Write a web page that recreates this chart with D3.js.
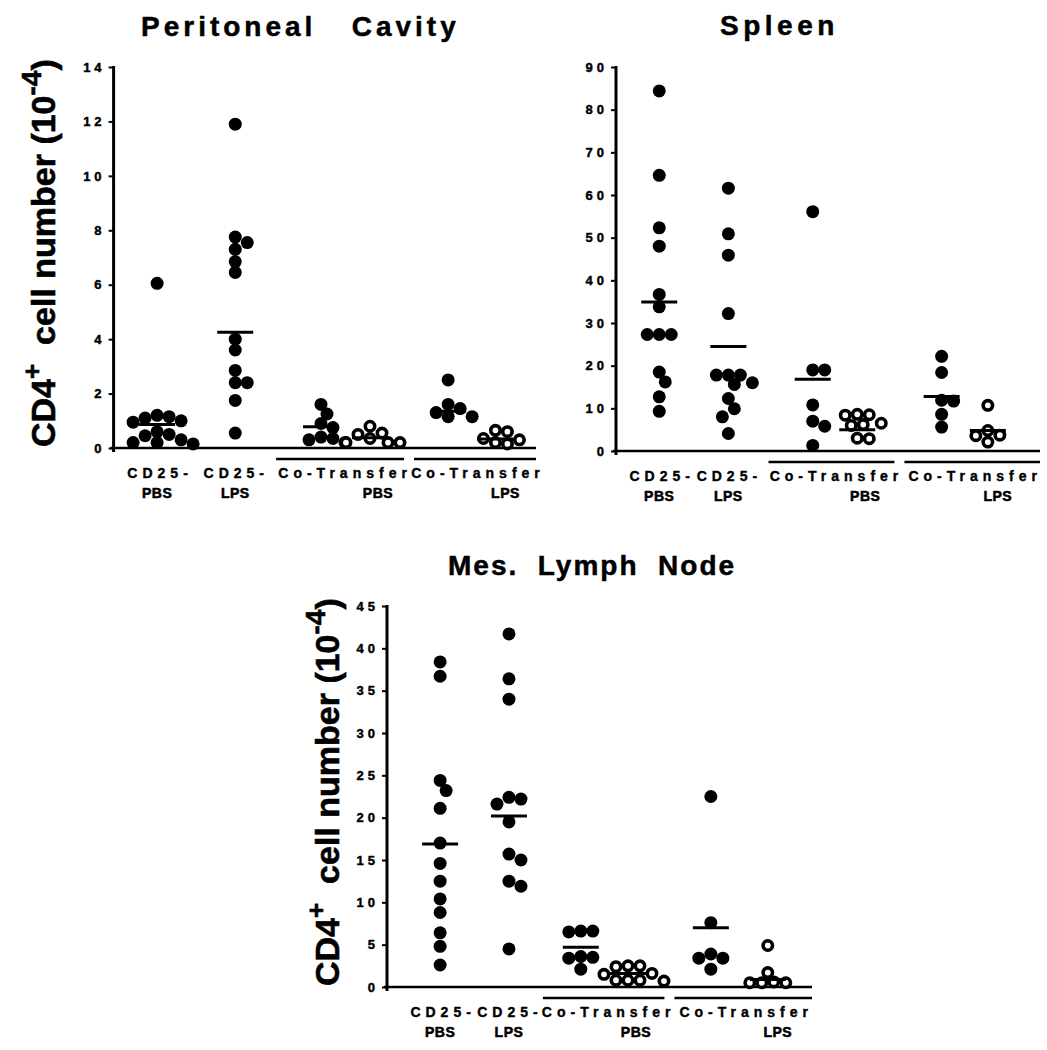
<!DOCTYPE html>
<html>
<head>
<meta charset="utf-8">
<script src="https://cdn.jsdelivr.net/npm/d3@7"></script>
<style>
  body { margin: 0; background: #fff; }
  svg text { font-family: "Liberation Sans", Arial, sans-serif; font-weight: bold; fill: #000; white-space: pre; }
</style>
</head>
<body>
<svg id="fig" width="1047" height="1050"></svg>
<script>
// columns of every panel (open = co-transferred CD25+ cells shown as open circles)
const columns   = ["CD25- PBS", "CD25- LPS", "CoT PBS", "CoT PBS open", "CoT LPS", "CoT LPS open"];
const openCols  = [false, false, false, true, false, true];
const xLabelTop = ["CD25-", "CD25-", "Co-Transfer", "Co-Transfer"];
const xLabelBot = ["PBS", "LPS", "PBS", "LPS"];

// Peritoneal cavity (x 10^4)
const periValues = [
    [6.05, 1.2, 1.15, 1.1, 1.0, 0.95, 0.6, 0.5, 0.45, 0.3, 0.2, 0.2, 0.15],
    [11.9, 7.75, 7.55, 7.3, 6.85, 6.45, 4.0, 3.6, 2.85, 2.4, 2.4, 1.75, 0.55],
    [1.6, 1.25, 0.9, 0.75, 0.4, 0.35, 0.3, 0.2],
    [0.8, 0.55, 0.5, 0.35, 0.2, 0.2, 0.2],
    [2.5, 1.6, 1.45, 1.3, 1.15, 1.15],
    [0.65, 0.6, 0.35, 0.3, 0.2, 0.15]
];
const periMeans = [0.86, 4.25, 0.78, 0.38, 1.35, 0.33];
const periTicks = [0, 2, 4, 6, 8, 10, 12, 14];

// Spleen
const splValues = [
    [84.4, 64.6, 52.3, 48, 36.7, 33.8, 27.3, 27.3, 27.3, 18.5, 16.2, 12.7, 9.3],
    [61.6, 50.9, 45.9, 32.2, 17.8, 17.8, 17.8, 16.0, 15.6, 12.3, 9.9, 8.0, 4.1],
    [56.1, 19.0, 19.0, 10.8, 7.0, 5.8, 1.3],
    [8.6, 8.5, 8.4, 6.5, 6.2, 6.0, 3.0, 2.9],
    [22.2, 18.4, 11.9, 11.7, 8.6, 5.6],
    [10.7, 4.8, 3.7, 3.6, 2.1]
];
const splMeans = [34.9, 24.5, 16.8, 5.0, 12.8, 4.8];
const splTicks = [0, 10, 20, 30, 40, 50, 60, 70, 80, 90];

// Mesenteric lymph node
const mlnValues = [
    [38.4, 36.7, 24.4, 23.2, 21.1, 17.0, 14.6, 12.5, 10.4, 8.8, 6.4, 4.8, 2.6],
    [41.7, 36.4, 34.0, 22.4, 22.2, 21.6, 19.5, 15.7, 15.0, 12.5, 11.9, 4.5],
    [6.6, 6.6, 6.5, 3.6, 3.5, 3.4, 2.1],
    [2.5, 2.5, 2.4, 1.6, 1.5, 0.8, 0.8, 0.8, 0.7],
    [22.5, 7.6, 3.9, 3.4, 3.4, 2.1],
    [4.9, 1.7, 0.6, 0.5, 0.5, 0.5]
];
const mlnMeans = [16.9, 20.2, 4.7, 1.6, 7.0, 0.9];
const mlnTicks = [0, 5, 10, 15, 20, 25, 30, 35, 40, 45];

const svg = d3.select("#fig");

// panel layout
const panels = [
    { title: "Peritoneal   Cavity", titleX: 141, titleY: 36, titleSize: 28, titleSpacing: 4,
      values: periValues, means: periMeans, ticks: periTicks,
      x0: 113.6, x1: 536, yTop: 67, yBottom: 448, labelX: 55,
      cols: [0.103, 0.288, 0.491, 0.607, 0.792, 0.904] },
    { title: "Spleen", titleX: 720, titleY: 35, titleSize: 28, titleSpacing: 4.5,
      values: splValues, means: splMeans, ticks: splTicks,
      x0: 616, x1: 1040, yTop: 67, yBottom: 451, labelX: null,
      cols: [0.102, 0.265, 0.464, 0.569, 0.768, 0.877] },
    { title: "Mes.  Lymph  Node", titleX: 448, titleY: 575, titleSize: 28, titleSpacing: 2,
      values: mlnValues, means: mlnMeans, ticks: mlnTicks,
      x0: 387, x1: 812, yTop: 606, yBottom: 987, labelX: 339,
      cols: [0.125, 0.287, 0.456, 0.567, 0.762, 0.896] }
];

const dotR = 6.5;

// simple greedy swarm: place each dot as close to the column centre as possible
function swarm(vals, cx, y, step, minDist) {
    const placed = [];
    vals.slice().sort((a, b) => b - a).forEach(v => {
        const py = y(v);
        for (let k = 0; k < 40; k++) {
            const off = k === 0 ? 0 : (k % 2 ? Math.ceil(k / 2) : -k / 2) * step;
            const px = cx + off;
            if (placed.every(q => Math.hypot(q.x - px, q.y - py) >= minDist)) {
                placed.push({ v, x: px, y: py });
                break;
            }
        }
    });
    return placed;
}

// bold the type a little more, like the heavy Helvetica of the figure
function heavy(sel, w) {
    sel.attr("stroke", "#000").attr("stroke-width", w).attr("stroke-linejoin", "round");
}

panels.forEach(p => {
    const g = svg.append("g");
    const maxV = d3.max(p.ticks);
    const y = d3.scaleLinear().domain([0, maxV]).range([p.yBottom, p.yTop]);
    const x = d3.scaleLinear().domain([0, 1]).range([p.x0, p.x1]);
    const colX = p.cols.map(c => x(c));

    // title
    g.append("text")
        .attr("x", p.titleX)
        .attr("y", p.titleY)
        .style("font-size", p.titleSize + "px")
        .style("letter-spacing", p.titleSpacing + "px")
        .text(p.title)
        .call(heavy, 0.5);

    // y axis
    const ya = g.append("g")
        .attr("transform", `translate(${p.x0},0)`)
        .call(d3.axisLeft(y).tickValues(p.ticks).tickSize(5).tickPadding(3).tickFormat(d => d));
    ya.select(".domain").remove();
    ya.selectAll(".tick line").attr("stroke", "#000").attr("stroke-width", 2);
    ya.selectAll(".tick text")
        .style("font-size", "13px")
        .style("letter-spacing", "4px")
        .style("font-family", "'Liberation Sans', Arial, sans-serif")
        .style("font-weight", "bold")
        .call(heavy, 0.45);

    g.append("line")
        .attr("x1", p.x0).attr("x2", p.x0)
        .attr("y1", y(maxV) - 1).attr("y2", p.yBottom + 4)
        .attr("stroke", "#000").attr("stroke-width", 3);
    g.append("line")
        .attr("x1", p.x0 - 3).attr("x2", p.x1)
        .attr("y1", p.yBottom).attr("y2", p.yBottom)
        .attr("stroke", "#000").attr("stroke-width", 2.5);

    // group underlines for the co-transfer columns
    const mid12 = (colX[1] + colX[2]) / 2;
    const mid34 = (colX[3] + colX[4]) / 2;
    [[mid12 - 2, mid34 - 5], [mid34 + 5, p.x1]].forEach(s => {
        g.append("line")
            .attr("x1", s[0]).attr("x2", s[1])
            .attr("y1", p.yBottom + 11).attr("y2", p.yBottom + 11)
            .attr("stroke", "#000").attr("stroke-width", 2.5);
    });

    // x labels
    const topPos = [colX[0] + 3, colX[1] + 1, (mid12 - 2 + mid34 - 5) / 2 + 5, (mid34 + 5 + p.x1) / 2 + 3];
    const botPos = [colX[0], colX[1], colX[3] + 8, colX[5] + 10];
    g.selectAll(".xl1").data(xLabelTop).enter().append("text")
        .attr("class", "xl1")
        .attr("x", (d, i) => topPos[i])
        .attr("y", p.yBottom + 30)
        .attr("text-anchor", "middle")
        .style("font-size", "14px")
        .style("letter-spacing", "5px")
        .text(d => d)
        .call(heavy, 0.4);
    g.selectAll(".xl2").data(xLabelBot).enter().append("text")
        .attr("class", "xl2")
        .attr("x", (d, i) => botPos[i])
        .attr("y", p.yBottom + 50)
        .attr("text-anchor", "middle")
        .style("font-size", "14px")
        .style("letter-spacing", "0.5px")
        .text(d => d)
        .call(heavy, 0.55);

    // dots
    p.values.forEach((vals, ci) => {
        const pts = swarm(vals, colX[ci], y, 6, 10.5);
        g.selectAll(null).data(pts).enter().append("circle")
            .attr("cx", d => d.x)
            .attr("cy", d => d.y)
            .attr("r", openCols[ci] ? dotR - 1.8 : dotR)
            .attr("fill", openCols[ci] ? "#fff" : "#000")
            .attr("stroke", "#000")
            .attr("stroke-width", openCols[ci] ? 3.6 : 0);
    });

    // mean bars
    g.selectAll(".mean").data(p.means).enter().append("line")
        .attr("class", "mean")
        .attr("x1", (d, i) => colX[i] - 18)
        .attr("x2", (d, i) => colX[i] + 18)
        .attr("y1", d => y(d))
        .attr("y2", d => y(d))
        .attr("stroke", "#000")
        .attr("stroke-width", 3);

    // y label
    if (p.labelX !== null) {
        const lab = g.append("text")
            .attr("transform", `translate(${p.labelX},${p.yBottom - 1}) rotate(-90)`)
            .style("font-size", "34px")
            .call(heavy, 0.6);
        lab.append("tspan").text("CD4");
        lab.append("tspan").attr("dy", -14).style("font-size", "26px").text("+");
        lab.append("tspan").attr("dy", 14).text("  cell number (10");
        lab.append("tspan").attr("dy", -14).style("font-size", "28px").text("-4");
        lab.append("tspan").attr("dy", 14).text(")");
    }
});
</script>
</body>
</html>
